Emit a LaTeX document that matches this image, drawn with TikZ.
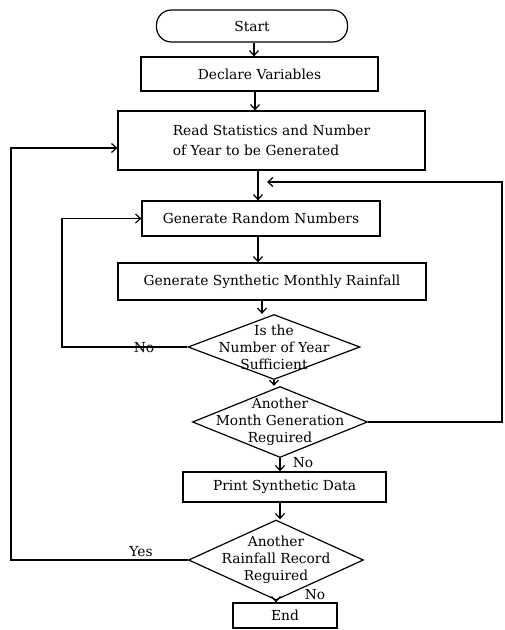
\documentclass[tikz,border=0pt]{standalone}
\usepackage{fontspec}
\setmainfont{DejaVu Serif}
\usetikzlibrary{shapes.geometric,arrows.meta}
\begin{document}
\begin{tikzpicture}[x=1pt,y=-1pt,
  every node/.style={font=\fontsize{13.8}{20}\selectfont},
  box/.style={draw, line width=1.2pt, inner sep=0pt, align=center},
  dia/.style={draw, diamond, line width=1.2pt, inner sep=0pt},
  dtext/.style={align=center, font=\fontsize{13.8}{17}\selectfont},
  arr/.style={line width=1.2pt, -{Straight Barb[length=5pt,width=9pt]}},
  lbl/.style={inner sep=0pt}]
\useasboundingbox (0,0) rectangle (505,630);

% nodes
\node[box, rounded corners=15pt, minimum width=191pt, minimum height=32pt] (start) at (252,26) {Start};
\node[box, minimum width=237pt, minimum height=34pt] (decl) at (259.5,74) {Declare Variables};
\node[box, align=left, minimum width=307pt, minimum height=59pt] (read) at (271.5,140.5) {Read Statistics and Number\\of Year to be Generated};
\node[box, minimum width=238pt, minimum height=35pt] (rand) at (261,218.5) {Generate Random Numbers};
\node[box, minimum width=308pt, minimum height=37pt] (synth) at (272,281.5) {Generate Synthetic Monthly Rainfall};
\node[dia, minimum width=172pt, minimum height=65pt,
      label={[dtext]center:{Is the\\Number of Year\\Sufficient}}] (suff) at (274,347) {};
\node[dia, minimum width=175pt, minimum height=71pt,
      label={[dtext]center:{Another\\Month Generation\\Reguired}}] (month) at (280,422) {};
\node[box, minimum width=203pt, minimum height=30pt] (print) at (284.5,487) {Print Synthetic Data};
\node[dia, minimum width=175pt, minimum height=80pt,
      label={[dtext]center:{Another\\Rainfall Record\\Reguired}}] (rain) at (276,560) {};
\node[box, minimum width=104pt, minimum height=25pt] (end) at (285,615.5) {End};

% labels
\node[lbl] (no1) at (144,348) {No};
\node[lbl] (no2) at (303,462.5) {No};
\node[lbl] (yes) at (141,552) {Yes};
\node[lbl] (no3) at (315,595) {No};

% column coordinates
\coordinate (c1) at (254,0);
\coordinate (c2) at (255,0);
\coordinate (c3) at (258,0);
\coordinate (c4) at (262,0);
\coordinate (c5) at (274,0);
\coordinate (c6) at (280,0);

% straight connectors
\draw[arr] (start.south -| c1) -- (decl.north -| c1);
\draw[arr] (decl.south -| c2) -- (read.north -| c2);
\draw[arr] (read.south -| c3) -- (rand.north -| c3);
\draw[arr] (rand.south -| c3) -- (synth.north -| c3);
\draw[arr] (synth.south -| c4) -- (suff.north -| c4);
\draw[arr] (suff.south) -- (month.north -| c5);
\draw[arr] (month.south) -- (print.north -| c6);
\draw[arr] (print.south -| c6) -- (rain.north -| c6);
\draw[arr] (rain.south) -- (end.north -| rain.south);

% loops
\coordinate (rx) at (502,182);
\coordinate (rj) at (267,182);
\draw[arr] (month.east) -| (rx) -- (rj);

\coordinate (lx) at (62,0);
\draw[arr] (suff.west) -- (suff.west -| lx) |- (rand.west);

\coordinate (ox) at (11,0);
\draw[arr] (rain.west) -- (rain.west -| ox) |- ([yshift=-7.5pt]read.west);
\end{tikzpicture}
\end{document}
